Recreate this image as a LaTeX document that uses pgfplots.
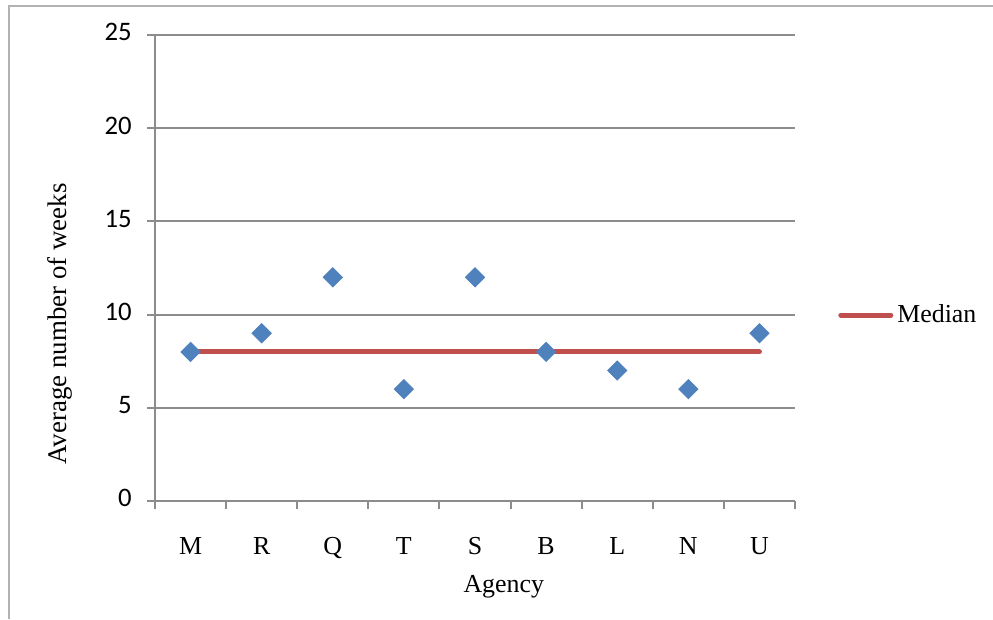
\documentclass[border=0pt]{standalone}
\usepackage{pgfplots}
\pgfplotsset{compat=1.18}
\usepackage{fontspec}
\setmainfont{Liberation Serif}
\newfontfamily\calib{Carlito}
\definecolor{gridgray}{HTML}{8C8C8C}
\definecolor{xlblue}{HTML}{4F81BD}
\definecolor{xlred}{HTML}{C0504D}
\begin{document}
\begin{tikzpicture}[x=1bp,y=1bp]
\path[use as bounding box] (0,0) rectangle (496.5,309.5);
\draw[color=gray!60, line width=1bp] (4.5,0) -- (4.5,306.5) -- (496.5,306.5);
\begin{axis}[at={(77.5bp,59bp)}, anchor=south west, scale only axis,
  width=320bp, height=233bp,
  xmin=-0.5, xmax=8.5, ymin=0, ymax=25, ytick={0,5,...,25},
  xtick={-0.5,0.5,...,8.5}, xticklabels={M,R,Q,T,S,B,L,N,U},
  x tick label as interval,
  axis x line*=bottom, axis y line*=left,
  ymajorgrids, grid style={gridgray, line width=1bp},
  axis line style={gridgray, line width=1bp},
  tick style={gridgray, line width=1bp},
  tick align=outside, major tick length=4bp,
  /pgf/number format/assume math mode=true,
  yticklabel style={font=\calib\fontsize{13.4}{15}\selectfont, anchor=east, inner sep=0pt, xshift=-7.5bp},
  xticklabel style={font=\fontsize{13}{15}\selectfont, anchor=center, inner sep=0pt},
  xticklabel shift=0bp,
  typeset ticklabels with strut=false,
  every x tick label/.append style={yshift=-20bp},
  xlabel={Agency}, ylabel={Average number of weeks},
  xlabel style={font=\fontsize{13}{15}\selectfont, at={(axis description cs:0.545,-0.185)}, anchor=center},
  ylabel style={font=\fontsize{13.5}{16}\selectfont, at={(axis description cs:-0.148,0.38)}, anchor=center},
  legend style={at={(axis description cs:1.067,0.399)}, anchor=west, draw=none, fill=none,
    font=\fontsize{13}{15}\selectfont, inner sep=0pt},
  legend cell align=left,
  legend image code/.code={\draw[#1] (0bp,0bp) -- (25bp,0bp);},
]
\addplot[xlred, line width=2.5bp, line cap=round] coordinates {(0,8) (8,8)};
\addlegendentry{Median}
\addplot[only marks, mark=square*, mark size=3.4bp, mark options={rotate=45, fill=xlblue, draw=xlblue}, forget plot]
  coordinates {(0,8) (1,9) (2,12) (3,6) (4,12) (5,8) (6,7) (7,6) (8,9)};
\end{axis}
\end{tikzpicture}
\end{document}
